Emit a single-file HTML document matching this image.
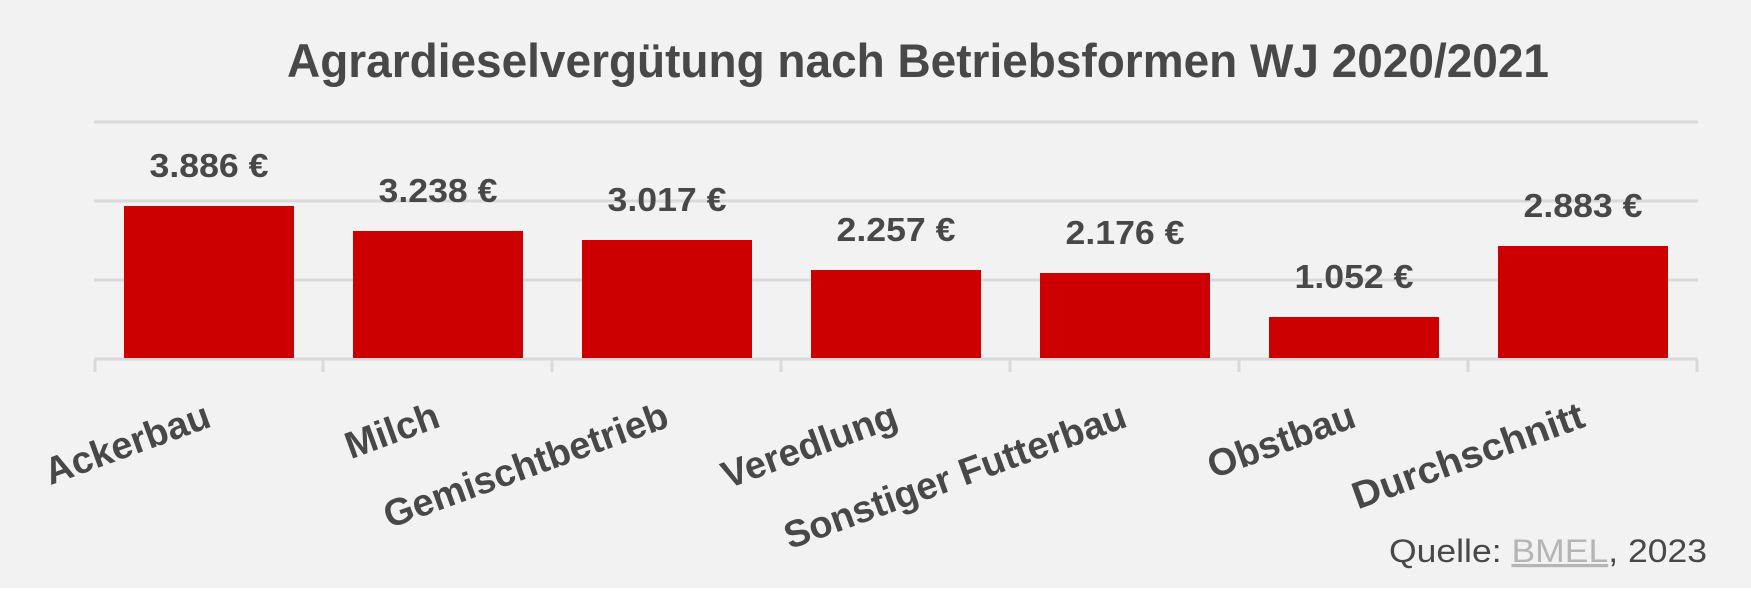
<!DOCTYPE html>
<html><head><meta charset="utf-8"><style>
html,body{margin:0;padding:0;background:#fff;}
svg{display:block;}
</style></head><body>
<svg width="1751" height="595" xmlns="http://www.w3.org/2000/svg" font-family="'Liberation Sans', sans-serif">
<rect x="0" y="0" width="1751" height="588" fill="#f2f2f2"/>
<text x="287" y="77" font-size="47" font-weight="bold" fill="#484848" textLength="1262" lengthAdjust="spacingAndGlyphs">Agrardieselvergütung nach Betriebsformen WJ 2020/2021</text>
<g stroke="#d9d9d9" stroke-width="3">
<line x1="94" y1="122" x2="1698" y2="122"/>
<line x1="94" y1="201" x2="1698" y2="201"/>
<line x1="94" y1="280" x2="1698" y2="280"/>
<line x1="94" y1="359" x2="1698" y2="359"/>
<line x1="95" y1="359" x2="95" y2="372"/>
<line x1="323" y1="359" x2="323" y2="372"/>
<line x1="552" y1="359" x2="552" y2="372"/>
<line x1="781" y1="359" x2="781" y2="372"/>
<line x1="1010" y1="359" x2="1010" y2="372"/>
<line x1="1239" y1="359" x2="1239" y2="372"/>
<line x1="1468" y1="359" x2="1468" y2="372"/>
<line x1="1697" y1="359" x2="1697" y2="372"/>
</g>
<g fill="#cc0000">
<rect x="124" y="206" width="170" height="152"/>
<rect x="353" y="231" width="170" height="127"/>
<rect x="582" y="240" width="170" height="118"/>
<rect x="811" y="270" width="170" height="88"/>
<rect x="1040" y="273" width="170" height="85"/>
<rect x="1269" y="317" width="170" height="41"/>
<rect x="1498" y="246" width="170" height="112"/>
</g>
<g font-size="33" font-weight="bold" fill="#484848" text-anchor="middle">
<text x="209" y="177" textLength="119" lengthAdjust="spacingAndGlyphs">3.886 €</text>
<text x="438" y="202" textLength="119" lengthAdjust="spacingAndGlyphs">3.238 €</text>
<text x="667" y="211" textLength="119" lengthAdjust="spacingAndGlyphs">3.017 €</text>
<text x="896" y="241" textLength="119" lengthAdjust="spacingAndGlyphs">2.257 €</text>
<text x="1125" y="244" textLength="119" lengthAdjust="spacingAndGlyphs">2.176 €</text>
<text x="1354" y="288" textLength="119" lengthAdjust="spacingAndGlyphs">1.052 €</text>
<text x="1583" y="217" textLength="119" lengthAdjust="spacingAndGlyphs">2.883 €</text>
</g>
<g font-size="38" font-weight="bold" fill="#484848" text-anchor="end">
<text transform="translate(213,426) rotate(-20)">Ackerbau</text>
<text transform="translate(442,426) rotate(-20)">Milch</text>
<text transform="translate(671,426) rotate(-20)">Gemischtbetrieb</text>
<text transform="translate(900,426) rotate(-20)">Veredlung</text>
<text transform="translate(1129,426) rotate(-20)">Sonstiger Futterbau</text>
<text transform="translate(1358,426) rotate(-20)">Obstbau</text>
<text transform="translate(1587,426) rotate(-20)" textLength="244" lengthAdjust="spacingAndGlyphs">Durchschnitt</text>
</g>
<text x="1389" y="562" font-size="32" fill="#484848" textLength="318" lengthAdjust="spacingAndGlyphs">Quelle: <tspan fill="#b5b5b5" text-decoration="underline">BMEL</tspan>, 2023</text>
</svg>
</body></html>
